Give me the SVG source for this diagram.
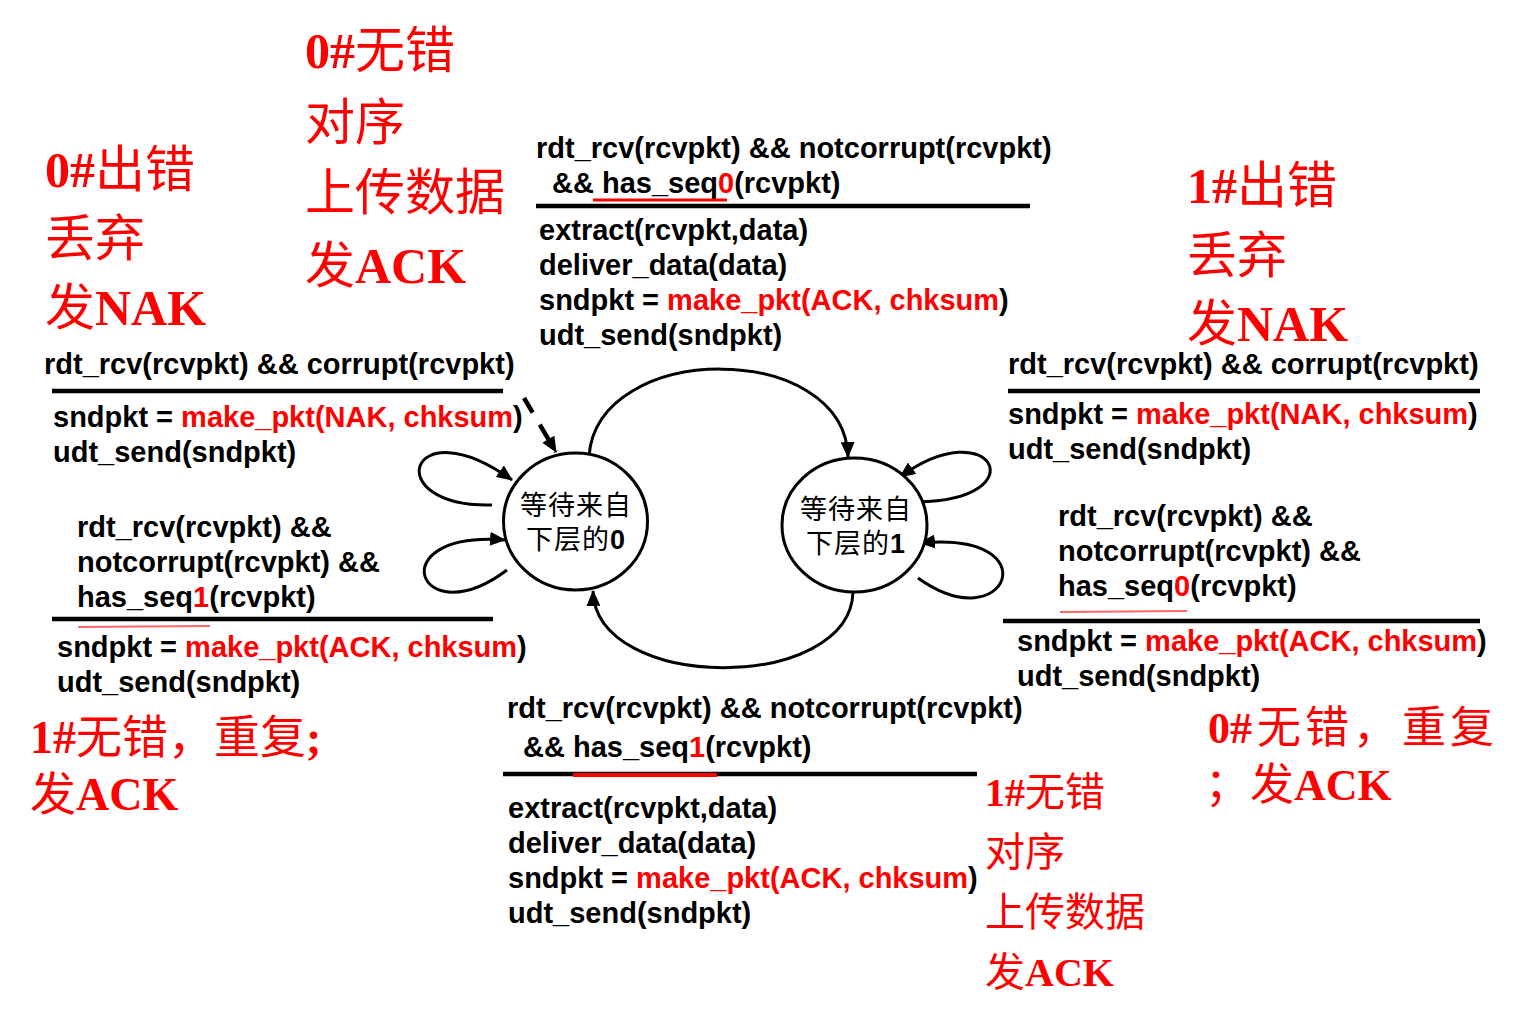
<svg xmlns="http://www.w3.org/2000/svg" width="1515" height="1021" viewBox="0 0 1515 1021">
<style>
.code{font-family:"Liberation Sans",Arial,sans-serif;font-weight:bold;font-size:29px;fill:#000}
.r{fill:#ff0000}
.lbl{font-family:"Liberation Serif","Noto Sans CJK SC",serif;font-size:50px;fill:#ff0000}
.lbl44{font-size:46px}
.lbl40{font-size:40px}
.lbl44r{font-size:44px}
.b{font-weight:bold}
.st{font-family:"Liberation Sans","Noto Sans CJK SC",sans-serif;font-size:27px;letter-spacing:1px;fill:#000;text-anchor:middle}
.num{font-weight:bold}
.bar{stroke:#000;stroke-width:4.5;fill:none}
.ul{stroke:#ff0000;stroke-width:3;fill:none}
.ulf{stroke:#ff6666;stroke-width:2;fill:none}
.edge{stroke:#000;stroke-width:3;fill:none}
.node{stroke:#000;stroke-width:3;fill:#fff}
</style>
<defs>
<marker id="ah" markerUnits="userSpaceOnUse" markerWidth="16" markerHeight="14" refX="15" refY="7" orient="auto">
<path d="M0,0 L16,7 L0,14 z" fill="#000"/>
</marker>
</defs>
<rect width="1515" height="1021" fill="#fff"/>

<g id="connectors">
<path class="edge" d="M589,456 C598,340 845,340 848,457" marker-end="url(#ah)"/>
<path class="edge" d="M853,592 C850,693 596,693 593,591" marker-end="url(#ah)"/>
<path class="edge" d="M492,505 C378,508 408,405 512,480" marker-end="url(#ah)"/>
<path class="edge" d="M507,570 C418,637 378,530 505,540" marker-end="url(#ah)"/>
<path class="edge" d="M918,502 C1038,500 992,410 900,477" marker-end="url(#ah)"/>
<path class="edge" d="M918,578 C1007,642 1052,530 920,543" marker-end="url(#ah)"/>
<path d="M524,398 L556,452" stroke="#000" stroke-width="4.5" stroke-dasharray="17,14" fill="none" marker-end="url(#ah)"/>
</g>

<g id="state0">
<ellipse class="node" cx="575.5" cy="521.5" rx="72" ry="68.5"/>
<text class="st" x="576" y="515">等待来自</text>
<text class="st" x="576" y="549">下层的<tspan class="num">0</tspan></text>
</g>

<g id="state1">
<ellipse class="node" cx="854.5" cy="525" rx="72.5" ry="67"/>
<text class="st" x="856" y="519">等待来自</text>
<text class="st" x="856" y="553">下层的<tspan class="num">1</tspan></text>
</g>

<g id="label-top">
<text class="code" x="536" y="158">rdt_rcv(rcvpkt) &amp;&amp; notcorrupt(rcvpkt)</text>
<text class="code" x="552" y="193">&amp;&amp; has_seq<tspan class="r">0</tspan>(rcvpkt)</text>
<line class="ul" x1="593" y1="200" x2="727" y2="200"/>
<line class="bar" x1="536" y1="206" x2="1030" y2="206"/>
<text class="code" x="539" y="240">extract(rcvpkt,data)</text>
<text class="code" x="539" y="275">deliver_data(data)</text>
<text class="code" x="539" y="310">sndpkt = <tspan class="r">make_pkt(ACK, chksum</tspan>)</text>
<text class="code" x="539" y="345">udt_send(sndpkt)</text>
</g>

<g id="label-left-top">
<text class="code" x="44" y="374">rdt_rcv(rcvpkt) &amp;&amp; corrupt(rcvpkt)</text>
<line class="bar" x1="52" y1="391" x2="503" y2="391"/>
<text class="code" x="53" y="427">sndpkt = <tspan class="r">make_pkt(NAK, chksum</tspan>)</text>
<text class="code" x="53" y="462">udt_send(sndpkt)</text>
</g>

<g id="label-left-bottom">
<text class="code" x="77" y="537">rdt_rcv(rcvpkt) &amp;&amp;</text>
<text class="code" x="77" y="572">notcorrupt(rcvpkt) &amp;&amp;</text>
<text class="code" x="77" y="607">has_seq<tspan class="r">1</tspan>(rcvpkt)</text>
<line class="bar" x1="52" y1="619" x2="493" y2="619"/>
<line class="ulf" x1="78" y1="627" x2="210" y2="626"/>
<text class="code" x="57" y="657">sndpkt = <tspan class="r">make_pkt(ACK, chksum</tspan>)</text>
<text class="code" x="57" y="692">udt_send(sndpkt)</text>
</g>

<g id="label-right-top">
<text class="code" x="1008" y="374">rdt_rcv(rcvpkt) &amp;&amp; corrupt(rcvpkt)</text>
<line class="bar" x1="1008" y1="391" x2="1480" y2="391"/>
<text class="code" x="1008" y="424">sndpkt = <tspan class="r">make_pkt(NAK, chksum</tspan>)</text>
<text class="code" x="1008" y="459">udt_send(sndpkt)</text>
</g>

<g id="label-right-bottom">
<text class="code" x="1058" y="526">rdt_rcv(rcvpkt) &amp;&amp;</text>
<text class="code" x="1058" y="561">notcorrupt(rcvpkt) &amp;&amp;</text>
<text class="code" x="1058" y="596">has_seq<tspan class="r">0</tspan>(rcvpkt)</text>
<line class="ulf" x1="1060" y1="612" x2="1187" y2="611"/>
<line class="bar" x1="1003" y1="621" x2="1480" y2="621"/>
<text class="code" x="1017" y="651">sndpkt = <tspan class="r">make_pkt(ACK, chksum</tspan>)</text>
<text class="code" x="1017" y="686">udt_send(sndpkt)</text>
</g>

<g id="label-bottom">
<text class="code" x="507" y="718">rdt_rcv(rcvpkt) &amp;&amp; notcorrupt(rcvpkt)</text>
<text class="code" x="523" y="757">&amp;&amp; has_seq<tspan class="r">1</tspan>(rcvpkt)</text>
<line class="bar" x1="503" y1="774" x2="977" y2="774"/>
<line x1="573" y1="775" x2="717" y2="775" stroke="#ff0000" stroke-width="4"/>
<text class="code" x="508" y="818">extract(rcvpkt,data)</text>
<text class="code" x="508" y="853">deliver_data(data)</text>
<text class="code" x="508" y="888">sndpkt = <tspan class="r">make_pkt(ACK, chksum</tspan>)</text>
<text class="code" x="508" y="923">udt_send(sndpkt)</text>
</g>

<g id="note-0-ok">
<text class="lbl" x="305" y="68"><tspan class="b">0#</tspan>无错</text>
<text class="lbl" x="305" y="140">对序</text>
<text class="lbl" x="305" y="210">上传数据</text>
<text class="lbl" x="305" y="283">发<tspan class="b">ACK</tspan></text>
</g>

<g id="note-0-err">
<text class="lbl" x="45" y="187"><tspan class="b">0#</tspan>出错</text>
<text class="lbl" x="45" y="256">丢弃</text>
<text class="lbl" x="45" y="325">发<tspan class="b">NAK</tspan></text>
</g>

<g id="note-1-err">
<text class="lbl" x="1187" y="203"><tspan class="b">1#</tspan>出错</text>
<text class="lbl" x="1187" y="273">丢弃</text>
<text class="lbl" x="1187" y="341">发<tspan class="b">NAK</tspan></text>
</g>

<g id="note-1-dup">
<text class="lbl lbl44" x="30" y="753"><tspan class="b">1#</tspan>无错，重复<tspan class="b">;</tspan></text>
<text class="lbl lbl44" x="30" y="810">发<tspan class="b">ACK</tspan></text>
</g>

<g id="note-0-dup">
<text class="lbl lbl44r" y="743"><tspan class="b" x="1208">0#</tspan><tspan x="1257">无</tspan><tspan x="1305">错</tspan><tspan x="1353">，</tspan><tspan x="1402">重</tspan><tspan x="1450">复</tspan></text>
<text class="lbl lbl44r" y="800"><tspan x="1205">；</tspan><tspan x="1250">发</tspan><tspan class="b">ACK</tspan></text>
</g>

<g id="note-1-ok">
<text class="lbl lbl40" x="985" y="806"><tspan class="b">1#</tspan>无错</text>
<text class="lbl lbl40" x="985" y="866">对序</text>
<text class="lbl lbl40" x="985" y="926">上传数据</text>
<text class="lbl lbl40" x="985" y="986">发<tspan class="b">ACK</tspan></text>
</g>
</svg>
